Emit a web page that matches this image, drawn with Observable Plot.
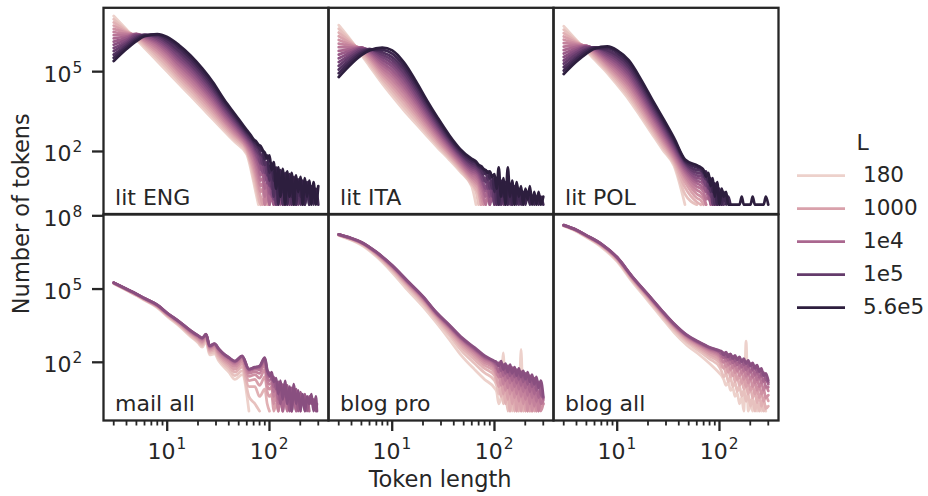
<!DOCTYPE html>
<html><head><meta charset="utf-8">
<script src="https://cdn.jsdelivr.net/npm/d3@7"></script>
<script src="https://cdn.jsdelivr.net/npm/@observablehq/plot@0.6"></script>
<style>
html,body{margin:0;padding:0;background:#fff;}
#chart{position:relative;width:928px;height:496px;overflow:hidden;}
#chart svg{position:absolute;left:0;top:0;max-width:none;overflow:visible;}
</style></head><body><div id="chart"></div>
<script>
// ---------------- data (log10 of the token counts) ----------------
const Lvalues = [180, 320, 560, 1000, 1800, 3200, 5600, 1e4, 1.8e4, 3.2e4, 5.6e4, 1e5, 1.8e5, 3.2e5, 5.6e5];
const legendL = [180, 1000, 1e4, 1e5, 5.6e5];
const legendLabels = ["180", "1000", "1e4", "1e5", "5.6e5"];
const topPanels = ["lit ENG", "lit ITA", "lit POL"];
const bottomPanels = ["mail all", "blog pro", "blog all"];
const yTicksTop = [1e2, 1e5];
const yTicksBottom = [1e2, 1e5, 1e8];
const xMajor = [10, 100];
const xMinor = [3, 4, 5, 6, 7, 8, 9, 20, 30, 40, 50, 60, 70, 80, 90, 200, 300];

// literature panels: smooth body + noisy tail
const xLitBody = [3, 4, 5, 6, 8, 10, 13, 17, 22, 28, 36, 46, 60];
const xLitTail = [66, 70, 74, 78, 82, 86, 90, 95, 100, 105, 110, 116, 122, 128, 135, 142, 149, 157, 165, 173, 182, 191, 201, 211, 222, 233, 245, 257, 270, 284, 300];

const litENGBody = [
  [7.09,6.59,6.20,5.89,5.39,5.00,4.54,4.08,3.63,3.21,2.77,2.35,1.89],
  [6.97,6.55,6.25,5.96,5.50,5.12,4.65,4.19,3.74,3.31,2.85,2.43,1.96],
  [6.85,6.52,6.29,6.03,5.60,5.23,4.75,4.30,3.84,3.41,2.94,2.50,2.02],
  [6.73,6.49,6.33,6.09,5.70,5.34,4.85,4.41,3.95,3.51,3.02,2.58,2.09],
  [6.61,6.46,6.36,6.15,5.79,5.44,4.96,4.51,4.06,3.61,3.11,2.65,2.15],
  [6.49,6.42,6.39,6.20,5.88,5.54,5.06,4.62,4.16,3.71,3.19,2.73,2.22],
  [6.37,6.38,6.41,6.25,5.96,5.64,5.17,4.73,4.27,3.81,3.28,2.80,2.28],
  [6.25,6.33,6.42,6.29,6.04,5.73,5.27,4.84,4.37,3.90,3.36,2.88,2.35],
  [6.13,6.27,6.41,6.32,6.11,5.82,5.38,4.95,4.48,4.00,3.44,2.95,2.41],
  [6.01,6.20,6.39,6.35,6.18,5.91,5.48,5.06,4.59,4.10,3.53,3.03,2.48],
  [5.89,6.13,6.36,6.37,6.24,5.99,5.58,5.17,4.69,4.20,3.61,3.10,2.54],
  [5.77,6.06,6.32,6.38,6.30,6.07,5.69,5.27,4.80,4.30,3.70,3.18,2.61],
  [5.64,5.99,6.27,6.38,6.35,6.15,5.79,5.38,4.91,4.40,3.78,3.25,2.67],
  [5.52,5.92,6.21,6.36,6.39,6.23,5.90,5.49,5.01,4.50,3.87,3.33,2.74],
  [5.40,5.85,6.15,6.33,6.41,6.30,6.00,5.60,5.12,4.60,3.95,3.40,2.80]
];
const litENGTail = [
  [1.30,0.85,0.40,0.00],
  [1.45,1.00,0.60,0.20,0.00],
  [1.55,1.20,0.80,0.40,0.00,0.20,0.00],
  [1.65,1.35,1.00,0.60,0.30,0.00,0.30,0.00],
  [1.80,1.50,1.15,0.80,0.48,0.60,0.00,0.30,0.00],
  [1.90,1.65,1.35,1.00,0.70,0.80,0.00,0.48,0.00],
  [2.00,1.80,1.50,1.20,0.90,1.00,0.30,0.60,0.00,0.30,0.00],
  [2.10,1.90,1.65,1.40,1.10,1.20,0.60,0.85,0.00,0.60,0.00,0.30,0.00],
  [2.18,2.00,1.80,1.55,1.30,1.40,0.90,1.05,0.40,0.80,0.00,0.60,0.00,0.48,0.00],
  [2.25,2.10,1.90,1.70,1.50,1.20,1.35,0.80,1.00,0.30,0.80,0.00,0.60,0.00,0.48,0.00,0.30,0.00],
  [2.33,2.20,2.00,1.85,1.55,1.65,1.20,1.30,0.70,1.00,0.20,0.85,0.00,0.70,0.00,0.60,0.00,0.48,0.00,0.30,0.00],
  [2.40,2.28,2.10,1.95,1.80,1.50,1.65,1.10,1.30,0.60,1.10,0.00,0.95,0.30,0.85,0.00,0.70,0.00,0.60,0.00,0.48,0.00,0.30,0.00],
  [2.48,2.35,2.20,2.10,1.90,1.80,1.50,1.60,0.90,1.30,0.30,1.20,0.70,1.00,0.00,0.90,0.30,0.85,0.00,0.78,0.30,0.60,0.00,0.48,0.00,0.48,0.00],
  [2.55,2.40,2.30,2.18,2.05,2.00,1.70,1.85,1.20,1.55,0.90,1.40,0.00,1.30,0.48,1.20,0.00,1.15,0.30,1.05,0.00,0.95,0.30,0.90,0.00,0.85,0.00,0.70,0.00,0.60,0.00],
  [2.60,2.45,2.38,2.25,2.20,2.05,1.95,1.75,1.85,1.30,1.60,0.60,1.40,0.30,1.35,0.00,1.25,0.30,1.20,0.00,1.10,0.48,1.05,0.00,1.00,0.30,0.90,0.00,0.85,0.00,0.70]
];

const litITABody = [
  [6.75,6.15,5.63,5.21,4.55,4.08,3.55,3.05,2.57,2.13,1.70,1.25,0.68],
  [6.61,6.12,5.70,5.30,4.65,4.20,3.68,3.16,2.67,2.21,1.77,1.31,0.75],
  [6.47,6.08,5.76,5.38,4.75,4.33,3.81,3.28,2.76,2.29,1.83,1.37,0.83],
  [6.33,6.04,5.81,5.46,4.85,4.45,3.94,3.39,2.86,2.37,1.90,1.43,0.90],
  [6.19,6.00,5.85,5.53,4.95,4.57,4.06,3.51,2.95,2.45,1.96,1.49,0.98],
  [6.05,5.96,5.88,5.60,5.05,4.69,4.19,3.62,3.05,2.53,2.03,1.55,1.05],
  [5.92,5.91,5.90,5.66,5.15,4.82,4.32,3.74,3.14,2.61,2.09,1.61,1.13],
  [5.78,5.86,5.91,5.71,5.25,4.94,4.45,3.85,3.24,2.69,2.16,1.67,1.20],
  [5.64,5.80,5.90,5.76,5.35,5.06,4.58,3.96,3.33,2.77,2.23,1.74,1.27],
  [5.50,5.73,5.88,5.80,5.45,5.19,4.71,4.08,3.43,2.85,2.29,1.80,1.35],
  [5.36,5.66,5.85,5.83,5.55,5.31,4.84,4.19,3.52,2.93,2.36,1.86,1.42],
  [5.22,5.58,5.80,5.85,5.64,5.43,4.96,4.31,3.62,3.01,2.42,1.92,1.50],
  [5.08,5.49,5.75,5.85,5.73,5.55,5.09,4.42,3.71,3.09,2.49,1.98,1.57],
  [4.94,5.40,5.69,5.83,5.82,5.68,5.22,4.54,3.81,3.17,2.55,2.04,1.65],
  [4.80,5.30,5.62,5.80,5.90,5.80,5.35,4.65,3.90,3.25,2.62,2.10,1.72]
];
const litITATail = [
  [0.00],
  [0.48,0.00],
  [0.60,0.40,0.00],
  [0.72,0.55,0.00],
  [0.82,0.70,0.30,0.00],
  [0.92,0.80,0.50,0.20,0.00],
  [1.02,0.90,0.65,0.40,0.00,0.30,0.00],
  [1.12,1.00,0.78,0.55,0.30,0.48,0.00],
  [1.20,1.10,0.90,0.70,0.50,0.60,0.00,0.30,0.00],
  [1.28,1.18,1.00,0.80,0.60,0.80,0.30,0.60,0.00,0.30,0.00],
  [1.35,1.25,1.10,0.90,1.00,0.60,0.80,0.30,0.70,0.00,0.48,0.00,0.30,0.00],
  [1.42,1.32,1.20,1.05,0.85,1.00,0.60,0.85,0.00,0.70,0.00,0.60,0.00,0.48,0.00,0.30,0.00],
  [1.50,1.40,1.30,1.15,1.20,0.95,1.05,0.60,0.95,0.00,0.85,0.00,0.70,0.00,0.60,0.00,0.48,0.00,0.30,0.00,0.30,0.00],
  [1.58,1.45,1.38,1.30,1.18,1.25,1.00,1.10,0.48,1.00,0.00,0.90,0.30,0.85,0.00,0.78,0.00,0.70,0.00,0.60,0.00,0.48,0.00,0.48,0.00,0.30,0.00,0.30,0.00,0.30,0.00],
  [1.62,1.50,1.45,1.35,1.30,1.20,1.25,1.05,1.15,0.60,1.40,0.30,1.00,0.00,1.40,0.30,0.90,0.00,0.85,0.30,0.70,0.00,0.60,0.20,0.70,0.00,0.48,0.00,0.48,0.00,0.30]
];

const litPOLBody = [
  [6.71,6.18,5.78,5.45,4.95,4.50,3.95,3.30,2.65,2.05,1.45,0.00],
  [6.58,6.15,5.83,5.52,5.02,4.59,4.06,3.40,2.74,2.14,1.53,0.40,0.00],
  [6.45,6.12,5.87,5.58,5.09,4.69,4.16,3.50,2.84,2.22,1.60,0.65,0.10],
  [6.32,6.09,5.91,5.64,5.16,4.78,4.27,3.60,2.93,2.31,1.68,0.85,0.25],
  [6.20,6.06,5.94,5.69,5.24,4.87,4.37,3.71,3.02,2.39,1.75,1.00,0.40],
  [6.07,6.02,5.96,5.74,5.31,4.96,4.48,3.81,3.11,2.48,1.83,1.10,0.55],
  [5.94,5.98,5.97,5.78,5.38,5.06,4.58,3.91,3.21,2.56,1.90,1.20,0.68],
  [5.81,5.93,5.97,5.82,5.45,5.15,4.69,4.01,3.30,2.65,1.98,1.28,0.80],
  [5.68,5.87,5.96,5.85,5.52,5.24,4.79,4.11,3.39,2.74,2.05,1.36,0.90],
  [5.55,5.80,5.94,5.88,5.59,5.34,4.90,4.21,3.49,2.82,2.13,1.44,1.00],
  [5.42,5.73,5.91,5.90,5.66,5.43,5.00,4.31,3.58,2.91,2.20,1.51,1.10],
  [5.30,5.65,5.86,5.91,5.74,5.52,5.11,4.42,3.67,2.99,2.28,1.57,1.20],
  [5.17,5.56,5.81,5.91,5.81,5.61,5.21,4.52,3.76,3.08,2.35,1.62,1.30],
  [5.04,5.47,5.75,5.89,5.88,5.71,5.32,4.62,3.86,3.16,2.43,1.66,1.40],
  [4.91,5.38,5.68,5.86,5.95,5.80,5.42,4.72,3.95,3.25,2.50,1.70,1.48]
];
const litPOLTail = [
  [],
  [],
  [0.00],
  [0.15,0.00],
  [0.30,0.20,0.00],
  [0.45,0.30,0.00],
  [0.60,0.48,0.20,0.30,0.00],
  [0.72,0.60,0.60,0.20,0.30,0.00],
  [0.85,0.75,0.48,0.60,0.00,0.30,0.00],
  [0.98,0.85,0.90,0.40,0.60,0.00,0.30,0.00],
  [1.08,0.95,0.70,0.85,0.30,0.60,0.00,0.30,0.00],
  [1.18,1.05,1.10,0.60,0.85,0.00,0.60,0.00,0.30,0.00],
  [1.28,1.15,0.95,1.05,0.48,0.85,0.00,0.60,0.00,0.30,0.00],
  [1.35,1.20,1.25,0.85,1.00,0.48,0.80,0.00,0.60,0.00,0.48,0.00,0.30,0.00],
  [1.40,1.30,1.05,1.20,0.70,1.00,0.30,0.85,0.00,0.60,0.30,0.48,0.00,0.00,0.00,0.00,0.00,0.00,0.30,0.00,0.00,0.00,0.00,0.30,0.00,0.00,0.00,0.00,0.00,0.30,0.00]
];

// mail panel
const xMailBody = [3, 4, 5, 6, 8, 10, 13, 17, 20, 22, 24, 26, 29, 32, 35, 40, 46, 54, 63, 72, 80, 90];
const xMailTail = [95, 100, 105, 110, 116, 122, 128, 135, 142, 149, 157, 165, 173, 182, 191, 201, 211, 222, 233, 245, 257, 270, 284, 291];
const mailBody = [
  [5.22,4.95,4.73,4.54,4.24,3.88,3.50,3.05,2.80,2.62,2.85,2.30,2.35,2.05,1.85,1.60,1.30,1.50,0.00],
  [5.23,4.96,4.74,4.56,4.26,3.91,3.53,3.09,2.85,2.68,2.90,2.38,2.42,2.14,1.95,1.72,1.45,1.65,0.60,0.30,0.00],
  [5.24,4.97,4.76,4.57,4.28,3.93,3.57,3.13,2.90,2.74,2.95,2.45,2.50,2.23,2.04,1.83,1.60,1.80,1.00,1.00,0.60,0.90],
  [5.24,4.98,4.77,4.58,4.29,3.95,3.59,3.17,2.95,2.80,3.00,2.50,2.57,2.31,2.12,1.92,1.72,1.93,1.25,1.30,1.05,1.40],
  [5.25,4.98,4.78,4.59,4.31,3.97,3.61,3.20,2.99,2.85,3.04,2.56,2.63,2.39,2.20,2.00,1.82,2.04,1.42,1.50,1.35,1.70],
  [5.25,4.99,4.79,4.60,4.32,3.99,3.64,3.24,3.03,2.91,3.08,2.60,2.68,2.45,2.27,2.08,1.92,2.13,1.55,1.62,1.55,1.95],
  [5.26,4.99,4.79,4.61,4.33,4.00,3.66,3.26,3.06,2.95,3.11,2.64,2.72,2.50,2.32,2.14,1.98,2.20,1.64,1.72,1.70,2.08],
  [5.26,5.00,4.80,4.62,4.34,4.01,3.67,3.28,3.08,2.98,3.13,2.66,2.74,2.53,2.36,2.17,2.02,2.24,1.69,1.77,1.78,2.14],
  [5.26,5.00,4.80,4.62,4.35,4.02,3.68,3.29,3.09,2.99,3.14,2.67,2.75,2.54,2.37,2.19,2.04,2.25,1.71,1.79,1.82,2.17],
  [5.26,5.00,4.80,4.62,4.35,4.02,3.68,3.30,3.10,3.00,3.15,2.68,2.76,2.55,2.38,2.20,2.05,2.26,1.72,1.80,1.85,2.19]
];
const mailTail = [
  [],
  [],
  [0.30,0.00],
  [0.80,0.60,0.70,0.00,0.30,0.00],
  [1.05,0.90,1.00,0.30,0.70,0.00,0.48,0.00],
  [1.25,1.10,1.15,0.60,0.85,0.00,0.70,0.30,0.60,0.00,0.48,0.00],
  [1.40,1.25,1.30,0.80,1.05,0.30,0.90,0.00,0.78,0.00,0.70,0.30,0.60,0.00,0.48,0.00],
  [1.55,1.40,1.45,1.00,1.20,0.48,1.05,0.00,0.95,0.48,0.90,0.00,0.85,0.00,0.70,0.30,0.60,0.00,0.48,0.00],
  [1.65,1.55,1.30,1.40,0.90,1.20,0.30,1.10,0.60,1.05,0.00,0.95,0.48,0.90,0.00,0.78,0.30,0.70,0.00,0.60,0.30,0.48,0.00,0.30],
  [1.70,1.45,1.60,1.20,1.35,0.70,1.25,0.48,1.24,0.30,1.00,0.00,1.11,0.30,0.85,0.00,0.70,0.00,0.60,0.30,0.70,0.00,0.60,0.00]
];

// blog panels
const xBlogBody = [3, 4, 5, 7, 10, 14, 20, 27, 36, 48, 64, 80, 100];
const xBlogTail = [105, 110, 116, 122, 128, 135, 142, 149, 157, 165, 173, 182, 191, 201, 211, 222, 233, 245, 257, 270, 284, 300];
const blogProBody = [
  [7.20,7.00,6.80,6.33,5.68,4.98,4.28,3.62,2.95,2.25,1.70,1.30,0.95],
  [7.21,7.02,6.83,6.38,5.76,5.08,4.40,3.74,3.12,2.46,1.95,1.57,1.26],
  [7.22,7.04,6.86,6.42,5.81,5.15,4.47,3.82,3.22,2.60,2.11,1.75,1.46],
  [7.22,7.05,6.87,6.44,5.85,5.20,4.53,3.88,3.30,2.71,2.24,1.88,1.61],
  [7.23,7.06,6.89,6.46,5.89,5.24,4.58,3.93,3.37,2.79,2.34,1.99,1.73],
  [7.23,7.06,6.90,6.48,5.91,5.28,4.62,3.96,3.42,2.86,2.42,2.08,1.83],
  [7.23,7.07,6.90,6.50,5.93,5.30,4.65,3.99,3.46,2.91,2.48,2.15,1.91],
  [7.24,7.07,6.91,6.50,5.95,5.32,4.67,4.02,3.49,2.95,2.53,2.19,1.96],
  [7.24,7.08,6.92,6.51,5.96,5.34,4.68,4.03,3.52,2.98,2.56,2.23,2.01],
  [7.24,7.08,6.92,6.52,5.97,5.35,4.70,4.05,3.54,3.01,2.60,2.27,2.05]
];
const blogProTail = [
  [0.80,0.30,0.60,2.39,0.30,0.48,0.00,0.40,0.00,0.30,0.00,2.53,0.00,0.30,0.00,0.20,0.00],
  [1.05,0.70,0.95,0.30,0.85,0.00,0.70,0.00,0.60,0.00,0.48,0.00,0.30,0.00,0.30,0.00],
  [1.20,1.10,0.60,1.05,0.30,0.90,0.00,0.80,0.00,0.70,0.00,0.60,0.00,0.48,0.00,0.30,0.00,0.30,0.00],
  [1.38,1.00,1.30,0.70,1.20,0.48,1.05,0.30,0.90,0.00,0.80,0.00,0.70,0.00,0.60,0.00,0.48,0.00,0.30,0.00,0.30],
  [1.50,1.45,1.05,1.40,0.85,1.30,0.70,1.20,0.55,1.05,0.40,0.95,0.30,0.85,0.00,0.75,0.00,0.60,0.00,0.48,0.00,0.30],
  [1.65,1.40,1.60,1.10,1.50,0.95,1.40,0.85,1.30,0.70,1.20,0.60,1.05,0.48,0.95,0.30,0.85,0.20,0.70,0.00,0.60,0.30],
  [1.75,1.70,1.40,1.70,1.25,1.60,1.15,1.50,1.00,1.40,0.90,1.30,0.80,1.20,0.65,1.05,0.55,0.95,0.40,0.80,0.30,0.45],
  [1.85,1.60,1.85,1.45,1.75,1.35,1.70,1.25,1.60,1.15,1.50,1.05,1.40,0.95,1.30,0.80,1.20,0.70,1.05,0.55,0.90,0.50],
  [1.92,1.98,1.65,1.90,1.55,1.85,1.45,1.78,1.40,1.70,1.30,1.62,1.20,1.55,1.10,1.45,1.00,1.35,0.85,1.20,0.70,0.55],
  [2.00,1.85,2.05,1.70,1.95,1.60,1.90,1.55,1.80,1.45,1.75,1.40,1.65,1.30,1.60,1.20,1.50,1.10,1.40,0.95,1.25,0.60]
];
const blogAllBody = [
  [7.58,7.36,7.12,6.72,6.12,5.30,4.52,3.85,3.22,2.70,2.30,1.95,1.55],
  [7.59,7.38,7.14,6.76,6.17,5.36,4.59,3.93,3.32,2.82,2.45,2.14,1.81],
  [7.60,7.39,7.16,6.78,6.20,5.40,4.64,3.99,3.39,2.89,2.54,2.26,1.98],
  [7.60,7.40,7.17,6.80,6.23,5.43,4.68,4.03,3.44,2.95,2.61,2.35,2.11],
  [7.61,7.40,7.18,6.81,6.25,5.46,4.70,4.06,3.48,3.00,2.67,2.43,2.21],
  [7.61,7.41,7.18,6.82,6.26,5.48,4.73,4.09,3.51,3.04,2.72,2.49,2.29],
  [7.61,7.41,7.19,6.83,6.28,5.49,4.75,4.11,3.53,3.07,2.75,2.53,2.36],
  [7.62,7.42,7.19,6.84,6.29,5.50,4.76,4.13,3.55,3.09,2.78,2.57,2.41],
  [7.62,7.42,7.20,6.84,6.29,5.51,4.77,4.14,3.57,3.10,2.80,2.60,2.44],
  [7.62,7.42,7.20,6.85,6.30,5.52,4.78,4.15,3.58,3.12,2.82,2.62,2.48]
];
const blogAllTail = [
  [1.45,1.30,1.05,1.20,0.85,0.95,0.60,0.75,0.30,0.55,0.00,2.87,0.00,0.30,0.00,0.40,0.00,0.30,0.00,0.20,0.00],
  [1.62,1.40,1.55,1.20,1.38,1.00,1.20,0.80,1.02,0.60,0.85,0.40,0.70,0.20,0.55,0.00,0.40,0.00,0.30,0.00,0.20],
  [1.80,1.82,1.55,1.70,1.40,1.55,1.20,1.40,1.05,1.25,0.90,1.10,0.70,0.95,0.55,0.80,0.35,0.65,0.20,0.48,0.10,0.20],
  [1.95,1.75,1.88,1.60,1.75,1.45,1.60,1.30,1.48,1.15,1.35,1.00,1.20,0.85,1.05,0.70,0.90,0.55,0.75,0.40,0.60,0.42],
  [2.02,2.05,1.82,1.95,1.70,1.82,1.58,1.72,1.45,1.60,1.30,1.48,1.15,1.35,1.00,1.20,0.85,1.05,0.70,0.90,0.55,0.65],
  [2.15,2.00,2.10,1.90,2.00,1.78,1.90,1.65,1.80,1.55,1.68,1.42,1.58,1.30,1.45,1.15,1.32,1.00,1.18,0.85,1.02,0.83],
  [2.22,2.25,2.05,2.18,1.95,2.08,1.85,1.98,1.75,1.88,1.65,1.78,1.52,1.68,1.40,1.55,1.28,1.42,1.15,1.30,1.00,0.98],
  [2.32,2.18,2.30,2.08,2.20,1.98,2.12,1.90,2.02,1.80,1.95,1.70,1.85,1.60,1.75,1.50,1.62,1.38,1.50,1.22,1.35,1.10],
  [2.35,2.40,2.20,2.32,2.12,2.25,2.05,2.18,1.98,2.10,1.90,2.02,1.82,1.95,1.70,1.85,1.60,1.72,1.45,1.58,1.30,1.18],
  [2.45,2.30,2.42,2.22,2.35,2.15,2.28,2.10,2.22,2.02,2.15,1.95,2.08,1.85,1.98,1.75,1.88,1.62,1.75,1.45,1.55,1.25]
];

// ---------------- build long tables ----------------
function table(panel, xBody, bodyRows, xTail, tailRows) {
  const out = [];
  bodyRows.forEach((vals, i) => {
    vals.forEach((v, j) => out.push({panel, L: Lvalues[i], x: xBody[j], y: Math.pow(10, v)}));
    (tailRows[i] || []).forEach((v, j) => out.push({panel, L: Lvalues[i], x: xTail[j], y: Math.pow(10, v)}));
  });
  return out;
}
const topData = [
  ...table("lit ENG", xLitBody, litENGBody, xLitTail, litENGTail),
  ...table("lit ITA", xLitBody, litITABody, xLitTail, litITATail),
  ...table("lit POL", xLitBody, litPOLBody, xLitTail, litPOLTail)
];
const bottomData = [
  ...table("mail all", xMailBody, mailBody, xMailTail, mailTail),
  ...table("blog pro", xBlogBody, blogProBody, xBlogTail, blogProTail),
  ...table("blog all", xBlogBody, blogAllBody, xBlogTail, blogAllTail)
];

// ---------------- styling helpers ----------------
const ink = "#262626";
function seabornCubehelix(t) {           // sns.cubehelix_palette defaults (light .85 -> dark .15)
  const x = 0.85 + (0.15 - 0.85) * t;
  const a = 0.8 * x * (1 - x) / 2;
  const phi = 2 * Math.PI * (0.4 * x);
  const c = Math.cos(phi), s = Math.sin(phi);
  const f = v => Math.round(255 * Math.max(0, Math.min(1, v)));
  const r = x + a * (-0.14861 * c + 1.78277 * s);
  const g = x + a * (-0.29227 * c - 0.90649 * s);
  const b = x + a * (1.97294 * c);
  return `rgb(${f(r)},${f(g)},${f(b)})`;
}
const colorOpts = {type: "log", domain: [180, 5.6e5], interpolate: seabornCubehelix};
const xOpts = {type: "log", domain: [3 / Math.pow(10, 0.1), 300 * Math.pow(10, 0.1)]};
const expo = d => String(Math.round(Math.log10(d)));
const svgStyle = {background: "transparent", fontFamily: "DejaVu Sans, sans-serif", fontSize: "22px", color: ink, overflow: "visible"};

function panelMarks(data, panels) {
  return [
    Plot.line(data, {x: "x", y: "y", z: "L", stroke: "L", fx: "panel", strokeWidth: 2.75,
      strokeLinejoin: "round", strokeLinecap: "round", curve: "monotone-x"}),
    Plot.frame({stroke: ink, strokeWidth: 2.3}),
    Plot.text(panels, {fx: d => d, text: d => d, frameAnchor: "bottom-left", dx: 11.6, dy: -9.5,
      lineAnchor: "bottom", textAnchor: "start", fontSize: 22, fill: ink})
  ];
}
function yAxisMarks(ticks, firstPanel) {
  return [
    Plot.axisY({ticks, tickSize: 11, text: null, strokeWidth: 2.3, label: null, stroke: ink}),
    Plot.text(ticks, {y: d => d, fx: () => firstPanel, text: () => "10", frameAnchor: "left", dx: -32, dy: 10,
      textAnchor: "end", lineAnchor: "bottom", fontSize: 22, fill: ink}),
    Plot.text(ticks, {y: d => d, fx: () => firstPanel, text: expo, frameAnchor: "left", dx: -31, dy: 1,
      textAnchor: "start", lineAnchor: "bottom", fontSize: 15.4, fill: ink})
  ];
}

const chart = document.getElementById("chart");

const topPlot = Plot.plot({
  width: 928, height: 214, marginLeft: 101.7, marginRight: 149.5, marginTop: 7.3, marginBottom: 0.5,
  style: svgStyle,
  x: {...xOpts, axis: null},
  y: {type: "log", domain: [Math.pow(10, -0.35), Math.pow(10, 7.40)]},
  fx: {domain: topPanels, padding: 0, axis: null},
  color: colorOpts,
  marks: [...panelMarks(topData, topPanels), ...yAxisMarks(yTicksTop, topPanels[0])]
});
chart.appendChild(topPlot);

const bottomPlot = Plot.plot({
  width: 928, height: 496, marginLeft: 101.7, marginRight: 149.5, marginTop: 214, marginBottom: 76,
  style: svgStyle,
  x: xOpts,
  y: {type: "log", domain: [Math.pow(10, -0.3835), Math.pow(10, 8.0535)]},
  fx: {domain: bottomPanels, padding: 0, axis: null},
  color: colorOpts,
  marks: [
    ...panelMarks(bottomData, bottomPanels),
    ...yAxisMarks(yTicksBottom, bottomPanels[0]),
    Plot.axisX({ticks: xMinor, tickSize: 5.5, text: null, strokeWidth: 1.8, label: null, stroke: ink}),
    Plot.axisX({ticks: xMajor, tickSize: 11, text: null, strokeWidth: 2.3, label: null, stroke: ink}),
    Plot.text(xMajor, {x: d => d, text: () => "10", frameAnchor: "bottom", dx: 8.3, dy: 38.3,
      textAnchor: "end", lineAnchor: "bottom", fontSize: 22, fill: ink}),
    Plot.text(xMajor, {x: d => d, text: expo, frameAnchor: "bottom", dx: 9.3, dy: 28.5,
      textAnchor: "start", lineAnchor: "bottom", fontSize: 15.4, fill: ink})
  ]
});
chart.appendChild(bottomPlot);

// legend drawn with Plot through the same colour scale
const legendPlot = Plot.plot({
  width: 928, height: 496, margin: 0,
  style: svgStyle,
  x: {type: "identity", axis: null},
  y: {type: "point", domain: ["L", ...legendLabels], range: [140.9, 307.7], padding: 0, axis: null},
  color: colorOpts,
  marks: [
    Plot.ruleY(legendL, {y: (d, i) => legendLabels[i], x1: 797, x2: 845, stroke: d => d, strokeWidth: 2.75}),
    Plot.text(legendLabels, {y: d => d, x: 862.5, text: d => d, textAnchor: "start", fontSize: 21.5, fill: ink}),
    Plot.text(["L"], {y: d => d, x: 856, text: d => d, textAnchor: "start", fontSize: 22, fill: ink})
  ]
});
chart.appendChild(legendPlot);

// axis titles
const ov = d3.select(chart).append("svg").attr("width", 928).attr("height", 496)
  .style("font-family", "DejaVu Sans, sans-serif").style("fill", ink);
ov.append("text").attr("x", 440.1).attr("y", 487).attr("text-anchor", "middle").attr("font-size", 22.5).text("Token length");
ov.append("text").attr("transform", "translate(28.5,213.7) rotate(-90)").attr("text-anchor", "middle").attr("font-size", 22.5).text("Number of tokens");
</script>
</body></html>
